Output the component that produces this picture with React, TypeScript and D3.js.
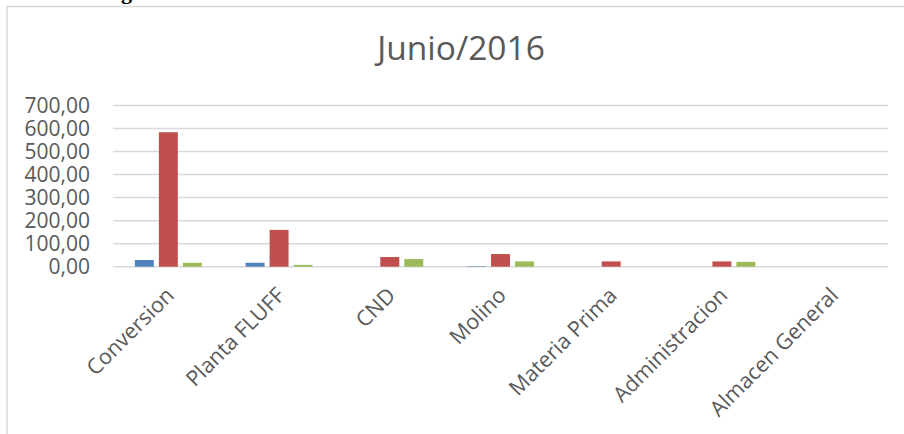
import { useEffect, useRef } from "react";
import * as d3 from "d3";

// chart values
const categories = [
  "Conversion",
  "Planta FLUFF",
  "CND",
  "Molino",
  "Materia Prima",
  "Administracion",
  "Almacen General",
];
const series = ["Serie1", "Serie2", "Serie3"];
const serie1 = [29, 17, 0, 2, 0, 0, 0];
const serie2 = [584, 160, 42, 55, 23, 23, 0];
const serie3 = [17, 8, 33, 23, 0, 21, 0];
const yTicks = [0, 100, 200, 300, 400, 500, 600, 700];
const colors = ["#4f81bd", "#c0504d", "#9bbb59"];

const W = 904;
const H = 434;

export default function App() {
  const ref = useRef<SVGSVGElement>(null);

  useEffect(() => {
    if (!ref.current) return;
    const svg = d3.select(ref.current);
    svg.selectAll("*").remove();

    const font = "'Open Sans', sans-serif";
    const margin = { top: 105.5, right: 16, bottom: 167.3, left: 113 };

    // outer frame (only top and left edges are visible)
    svg.append("path")
      .attr("d", `M7,${H} L7,6.5 L${W},6.5`)
      .attr("fill", "none")
      .attr("stroke", "#d9d9d9")
      .attr("stroke-width", 1.5);

    // cut-off heading fragment above the chart
    svg.append("text")
      .attr("x", 121)
      .attr("y", -1)
      .attr("font-family", "'Liberation Serif', serif")
      .attr("font-weight", "bold")
      .attr("font-size", 22)
      .attr("fill", "#000")
      .text("g");

    const x0 = d3.scaleBand()
      .domain(categories)
      .range([margin.left, W - margin.right])
      .paddingInner(0.395)
      .paddingOuter(0.1975);

    const x1 = d3.scaleBand()
      .domain(series)
      .range([0, x0.bandwidth()])
      .paddingInner(0.21);

    const y = d3.scaleLinear()
      .domain([0, 700])
      .range([H - margin.bottom, margin.top]);

    const fmt = d3.formatLocale({
      decimal: ",",
      thousands: ".",
      grouping: [3],
      currency: ["", ""],
    }).format(".2f");

    // title
    svg.append("text")
      .attr("x", 461)
      .attr("y", 60)
      .attr("text-anchor", "middle")
      .attr("font-family", font)
      .attr("font-size", 33.5)
      .attr("fill", "#595959")
      .text("Junio/2016");

    // gridlines
    svg.append("g")
      .selectAll("line")
      .data(yTicks)
      .join("line")
      .attr("x1", margin.left)
      .attr("x2", W - margin.right)
      .attr("y1", d => y(d))
      .attr("y2", d => y(d))
      .attr("stroke", "#d9d9d9")
      .attr("stroke-width", 1.5);

    // y labels
    svg.append("g")
      .selectAll("text")
      .data(yTicks)
      .join("text")
      .attr("x", 90)
      .attr("y", d => y(d))
      .attr("dy", "0.35em")
      .attr("text-anchor", "end")
      .attr("font-family", font)
      .attr("font-size", 21)
      .attr("fill", "#595959")
      .text(d => fmt(d));

    // bars
    const values = [serie1, serie2, serie3];
    const rows = categories.flatMap((c, i) =>
      series.map((s, j) => ({ cat: c, s, j, v: values[j][i] }))
    );
    svg.append("g")
      .selectAll("rect")
      .data(rows.filter(d => d.v > 0))
      .join("rect")
      .attr("x", d => x0(d.cat)! + x1(d.s)!)
      .attr("y", d => y(d.v))
      .attr("width", x1.bandwidth())
      .attr("height", d => y(0) - y(d.v))
      .attr("fill", d => colors[d.j]);

    // x labels, rotated
    svg.append("g")
      .selectAll("text")
      .data(categories)
      .join("text")
      .attr("transform", d => `translate(${x0(d)! + x0.bandwidth() / 2 + 7},${y(0) + 30}) rotate(-45)`)
      .attr("text-anchor", "end")
      .attr("font-family", font)
      .attr("font-size", 21.5)
      .attr("fill", "#595959")
      .text(d => d);
  }, []);

  return (
    <svg
      ref={ref}
      width={W}
      height={H}
      style={{ position: "absolute", left: 0, top: 0, background: "#fff" }}
    />
  );
}
